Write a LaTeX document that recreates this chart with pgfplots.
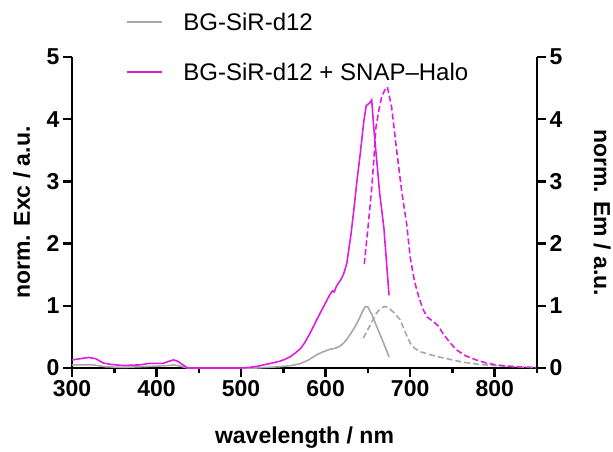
\documentclass[border=0pt]{standalone}
\usepackage{fontspec}
\setmainfont{Liberation Sans}
\usepackage{pgfplots}
\pgfplotsset{compat=1.18}
\definecolor{mag}{RGB}{222,30,222}
\definecolor{gr}{RGB}{168,168,168}
\begin{document}
\begin{tikzpicture}
\pgfplotsset{
  common/.style={
    at={(72pt,83pt)}, anchor=south west,
    scale only axis, width=465pt, height=311pt,
    xmin=300, xmax=850, ymin=0, ymax=5,
    ytick={0,1,2,3,4,5},
    axis line style={-, line width=2.5pt},
    tick align=outside,
    major tick length=9pt, minor tick length=5pt,
    tick style={black, line width=2.5pt},
    /pgf/number format/assume math mode=true,
    tick label style={font=\bfseries\fontsize{23}{23}\selectfont},
    label style={font=\bfseries\fontsize{23}{23}\selectfont},
  },
}
\path[use as bounding box] (0,0) rectangle (613pt,451pt);
\begin{axis}[common,
  axis x line*=bottom, axis y line*=left,
  xtick={300,400,500,600,700,800},
  minor xtick={350,450,550,650,750,850},
  xlabel={wavelength / nm},
  ylabel={norm. Exc / a.u.},
  xlabel style={at={(axis description cs:0.5,-0.225)}, anchor=center},
  ylabel style={at={(axis description cs:-0.108,0.5)}, anchor=center},
  legend style={at={(axis description cs:0.115,1.149)}, anchor=north west,
    draw=none, fill=none, font=\fontsize{24}{24}\selectfont,
    row sep=27pt, inner sep=0pt, legend cell align=left,
    nodes={inner sep=2pt}},
  legend image code/.code={\draw[#1, line width=2pt] (0pt,0pt) -- (35pt,0pt); \path (54pt,0pt);},
]
% grey excitation
\addplot[gr, line width=1.6pt] coordinates {
(300,0.05)(315,0.05)(325,0.05)(340,0.02)(360,0.01)(380,0.02)(400,0.03)(415,0.04)(420,0.05)(428,0.03)(437,0)(500,0)(518,0)(530,0.01)(545,0.02)(560,0.04)(570,0.07)(580,0.13)(589,0.21)(597,0.26)(605,0.30)(612,0.32)(617,0.35)(621,0.40)(625,0.46)(630,0.56)(635,0.67)(640,0.80)(644,0.92)(647,0.99)(650,0.98)(655,0.85)(660,0.68)(665,0.52)(670,0.35)(675,0.18)
};
\addlegendentry{BG-SiR-d12}
% magenta excitation
\addplot[mag, line width=1.6pt] coordinates {
(300,0.13)(310,0.15)(320,0.17)(328,0.15)(337,0.08)(345,0.06)(360,0.04)(380,0.05)(392,0.075)(408,0.075)(415,0.11)(420,0.13)(425,0.11)(430,0.06)(437,0)(450,0)(500,0)(510,0.01)(520,0.03)(530,0.06)(540,0.09)(546,0.11)(552,0.14)(558,0.18)(564,0.24)(570,0.31)(575,0.40)(580,0.52)(585,0.65)(590,0.79)(595,0.92)(600,1.05)(605,1.18)(608,1.24)(610,1.22)(613,1.32)(617,1.40)(621,1.50)(625,1.68)(630,2.15)(633,2.50)(637,3.00)(641,3.45)(645,3.95)(648,4.22)(652,4.26)(654.5,4.31)(657,3.85)(660,3.40)(664,2.80)(669,2.24)(672,1.70)(675,1.17)
};
\addlegendentry{BG-SiR-d12 + SNAP–Halo}
% grey emission
\addplot[gr, line width=1.6pt, dash pattern=on 6pt off 3pt, forget plot] coordinates {
(644.5,0.48)(650,0.62)(655,0.75)(660,0.88)(665,0.96)(670,0.99)(675,0.96)(680,0.90)(688,0.78)(695,0.55)(700,0.40)(705,0.32)(712,0.26)(720,0.23)(730,0.19)(740,0.16)(750,0.13)(760,0.10)(770,0.08)(780,0.06)(800,0.04)(820,0.025)(835,0.015)(850,0.01)
};
% magenta emission
\addplot[mag, line width=1.6pt, dash pattern=on 6pt off 3pt, forget plot] coordinates {
(645.7,1.67)(650.4,2.30)(654.5,2.89)(657,3.35)(659.5,3.87)(663,4.15)(666.3,4.36)(670,4.47)(673,4.52)(678,4.20)(684,3.50)(690,2.84)(696,2.30)(700,1.78)(705,1.40)(710,1.15)(715,0.95)(720,0.82)(727,0.75)(733,0.68)(740,0.53)(747,0.41)(755,0.29)(765,0.20)(778,0.13)(790,0.08)(802,0.05)(815,0.03)(830,0.015)(850,0.005)
};
\end{axis}
\begin{axis}[common,
  axis x line=none, axis y line*=right,
  ylabel={norm. Em / a.u.},
  ylabel style={at={(axis description cs:1.14,0.5)}, anchor=center, rotate=180},
]
\end{axis}
\end{tikzpicture}
\end{document}
